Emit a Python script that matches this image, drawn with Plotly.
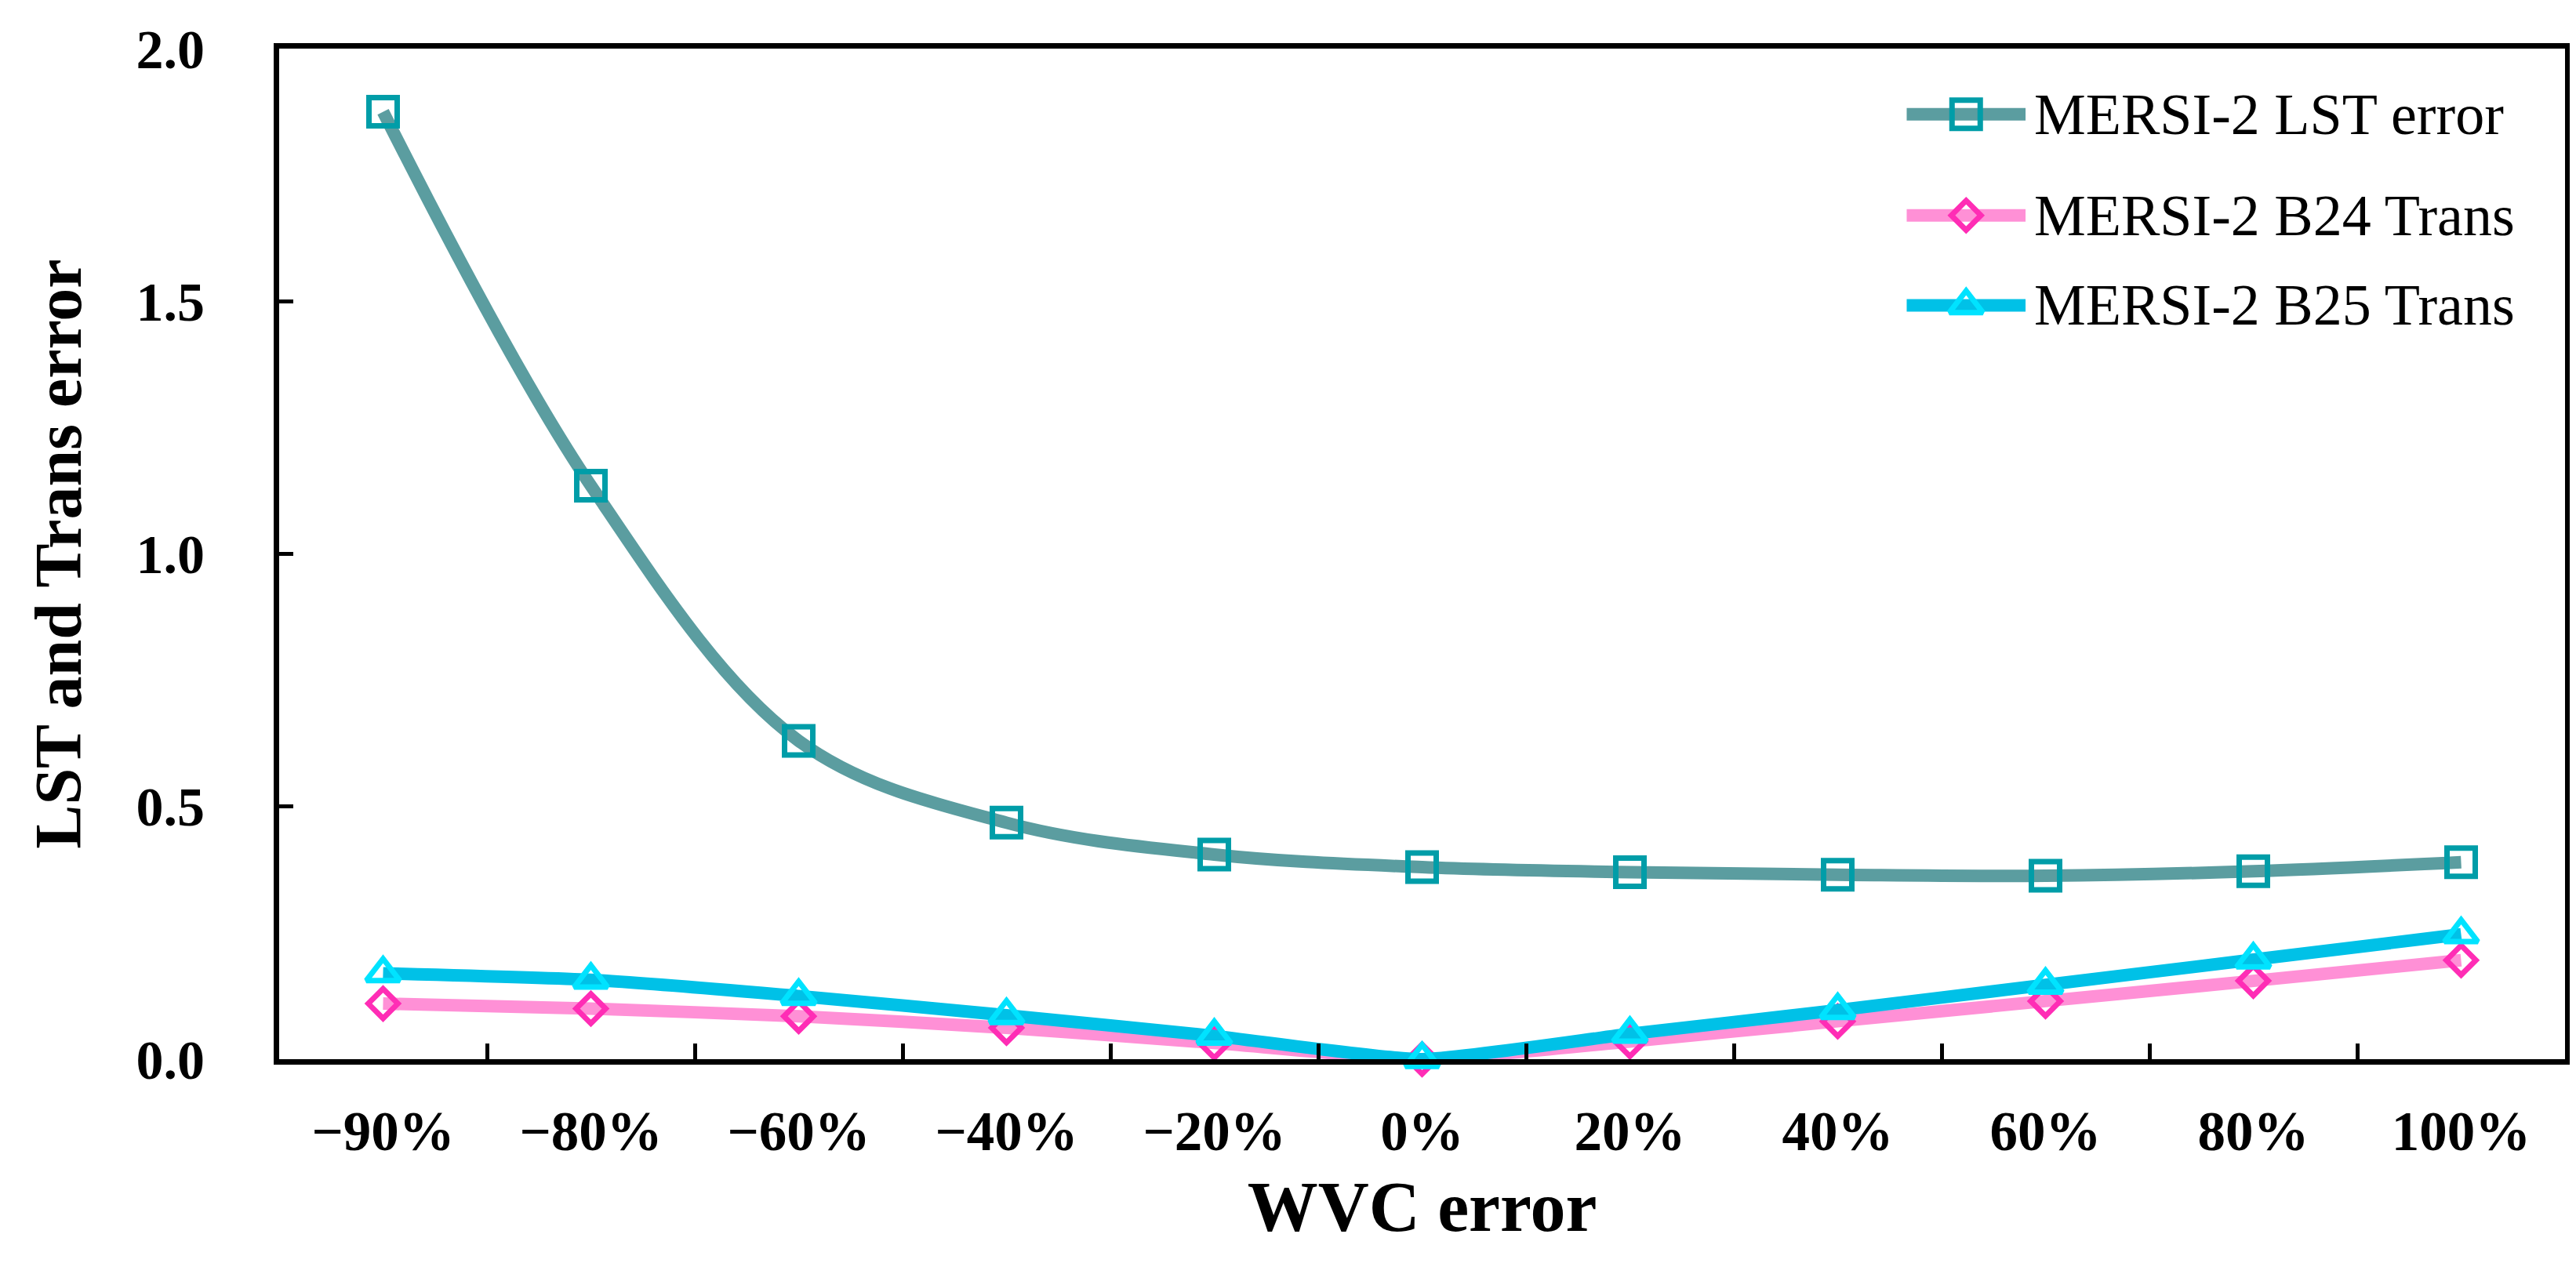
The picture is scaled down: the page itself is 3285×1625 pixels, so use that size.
import plotly.graph_objects as go

# ---------------- data ----------------
categories = ["−90%", "−80%", "−60%", "−40%", "−20%", "0%", "20%", "40%", "60%", "80%", "100%"]
lst_error = [1.875, 1.135, 0.63, 0.468, 0.405, 0.38, 0.37, 0.365, 0.363, 0.372, 0.39]
b24_trans = [0.11, 0.10, 0.085, 0.062, 0.032, 0.0, 0.035, 0.075, 0.115, 0.155, 0.196]
b25_trans = [0.17, 0.157, 0.125, 0.087, 0.046, 0.0, 0.05, 0.097, 0.147, 0.197, 0.247]
series_names = ["MERSI-2 LST error", "MERSI-2 B24 Trans", "MERSI-2 B25 Trans"]
y_ticks = [0.0, 0.5, 1.0, 1.5, 2.0]

# ---------------- styles ----------------
FONT = "Liberation Serif"
styles = [
    dict(line="#5B9DA0", mk="#009DA8", symbol="square-open", size=36, smooth=1.0),
    dict(line="#FF90D6", mk="#FF2DB5", symbol="diamond-open", size=29, smooth=0.5),
    dict(line="#00C1E7", mk="#00E3FF", symbol="triangle-up-open", size=37, smooth=0.5),
]
LINE_W = 16
MARK_LW = 7

fig = go.Figure()
for name, vals, st in zip(series_names, [lst_error, b24_trans, b25_trans], styles):
    fig.add_trace(go.Scatter(
        x=categories, y=vals, name=name, mode="lines+markers",
        line=dict(color=st["line"], width=LINE_W, shape="spline", smoothing=st["smooth"]),
        marker=dict(symbol=st["symbol"], size=st["size"], color=st["mk"],
                    line=dict(color=st["mk"], width=MARK_LW)),
        cliponaxis=False, showlegend=False,
    ))

# ---------------- manual legend (paper-fraction layout on an overlay axis) ----------------
LEG_LINE_X0, LEG_LINE_X1, LEG_MARK_X, LEG_TEXT_X = 0.712, 0.764, 0.738, 0.767
LEG_ROWS_Y = [0.935, 0.835, 0.746]
for name, st, ry in zip(series_names, styles, LEG_ROWS_Y):
    fig.add_trace(go.Scatter(
        x=[LEG_LINE_X0, LEG_LINE_X1], y=[ry, ry], xaxis="x2", yaxis="y2", mode="lines",
        line=dict(color=st["line"], width=LINE_W), showlegend=False, hoverinfo="skip", cliponaxis=False,
    ))
    fig.add_trace(go.Scatter(
        x=[LEG_MARK_X], y=[ry], xaxis="x2", yaxis="y2", mode="markers",
        marker=dict(symbol=st["symbol"], size=st["size"], color=st["mk"],
                    line=dict(color=st["mk"], width=MARK_LW)),
        showlegend=False, hoverinfo="skip", cliponaxis=False,
    ))
    fig.add_annotation(x=LEG_TEXT_X, y=ry, xref="x2", yref="y2", text=name, showarrow=False,
                       xanchor="left", yanchor="middle",
                       font=dict(family=FONT, size=74, color="black"))

fig.update_layout(
    width=3285, height=1625,
    margin=dict(l=348, r=22, t=54, b=282),
    paper_bgcolor="white", plot_bgcolor="white",
    showlegend=False,
    xaxis=dict(
        type="category", categoryorder="array", categoryarray=categories,
        range=[-0.5, len(categories) - 0.5], autorange=False,
        tickson="boundaries", ticks="inside", ticklen=20, tickwidth=5, tickcolor="black",
        showline=True, linewidth=7, linecolor="black", mirror=True, showgrid=False, zeroline=False,
        tickfont=dict(family=FONT, size=71, color="black", weight="bold"),
        ticklabelstandoff=24,
        title=dict(text="WVC error", standoff=28,
                   font=dict(family=FONT, size=90, color="black", weight="bold")),
    ),
    yaxis=dict(
        range=[0, 2.0], autorange=False, tickvals=y_ticks, tickformat=".1f",
        ticks="inside", ticklen=18, tickwidth=5, tickcolor="black",
        showline=True, linewidth=7, linecolor="black", mirror=True, showgrid=False, zeroline=False,
        tickfont=dict(family=FONT, size=70, color="black", weight="bold"),
        ticklabelstandoff=74,
        title=dict(text="LST and Trans error", standoff=45,
                   font=dict(family=FONT, size=84, color="black", weight="bold")),
    ),
    xaxis2=dict(domain=[0, 1], range=[0, 1], overlaying="x", visible=False, fixedrange=True),
    yaxis2=dict(domain=[0, 1], range=[0, 1], overlaying="y", visible=False, fixedrange=True),
)

fig.write_html("out.html")
